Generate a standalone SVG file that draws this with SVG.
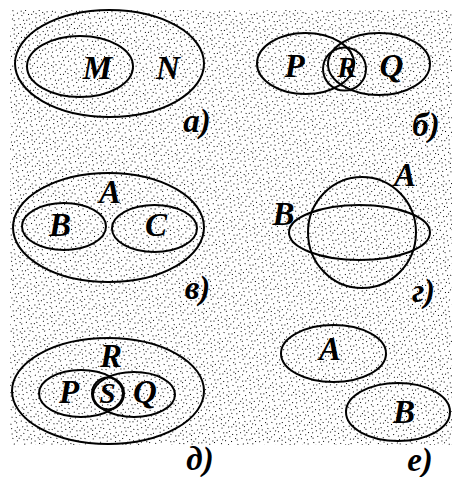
<svg xmlns="http://www.w3.org/2000/svg" width="452" height="477" viewBox="0 0 452 477">
<style>
.e{fill:none;stroke:#000;stroke-width:2}
.t{font-family:"Liberation Serif","Times New Roman",serif;font-style:italic;font-weight:bold;font-size:33px;fill:#000;text-anchor:middle}
.s{font-size:29px}
</style>
<defs>
<pattern id="dots" width="24" height="24" patternUnits="userSpaceOnUse" patternTransform="rotate(17)">
<path fill="#000" d="M3 2h1v1h-1zM11 1h1v1h-1zM18 3h1v1h-1zM22 0h1v1h-1zM7 5h1v1h-1zM15 6h1v1h-1zM1 8h1v1h-1zM20 7h1v1h-1zM9 9h1v1h-1zM13 11h1v1h-1zM4 12h1v1h-1zM17 10h1v1h-1zM23 12h1v1h-1zM6 15h1v1h-1zM11 14h1v1h-1zM19 15h1v1h-1zM2 17h1v1h-1zM14 18h1v1h-1zM21 19h1v1h-1zM8 19h1v1h-1zM0 21h1v1h-1zM16 22h1v1h-1zM5 23h1v1h-1zM12 22h1v1h-1zM10 4h1v1h-1zM2 5h1v1h-1zM20 23h1v1h-1zM17 14h1v1h-1zM7 11h1v1h-1zM23 4h1v1h-1zM14 2h1v1h-1zM5 19h1v1h-1z"/>
</pattern>
</defs>
<rect width="452" height="477" fill="#fff"/>
<rect x="10" y="10" width="442" height="435" fill="url(#dots)"/>

<g id="panel-a">
<ellipse class="e" cx="109.5" cy="63.5" rx="94.5" ry="53.5"/>
<ellipse class="e" cx="80" cy="66.5" rx="53" ry="30.5"/>
<text class="t" x="97.5" y="79">M</text>
<text class="t" x="168" y="79">N</text>
<text class="t" x="197" y="132">а)</text>
</g>

<g id="panel-b">
<ellipse class="e" cx="305.5" cy="63.5" rx="48.5" ry="30.5"/>
<ellipse class="e" cx="379" cy="64" rx="51" ry="31"/>
<circle class="e" cx="344.5" cy="69" r="21.5"/>
<text class="t s" x="347" y="77">R</text>
<text class="t" x="294.5" y="77">P</text>
<text class="t" x="391.5" y="77">Q</text>
<text class="t" x="426" y="136">б)</text>
</g>

<g id="panel-v">
<ellipse class="e" cx="108.5" cy="227.5" rx="95.5" ry="54.5"/>
<ellipse class="e" cx="64" cy="226.5" rx="42" ry="23.5"/>
<ellipse class="e" cx="154.5" cy="228.5" rx="42.5" ry="23.5"/>
<text class="t" x="110" y="203">A</text>
<text class="t" x="60" y="236">B</text>
<text class="t" x="156" y="236">C</text>
<text class="t" x="197.5" y="299">в)</text>
</g>

<g id="panel-g">
<ellipse class="e" cx="362" cy="232.5" rx="54" ry="55.5"/>
<ellipse class="e" cx="359.5" cy="232.5" rx="70.5" ry="27.5"/>
<text class="t" x="405" y="186">A</text>
<text class="t" x="283.5" y="225">B</text>
<text class="t" x="423.5" y="302">г)</text>
</g>

<g id="panel-d">
<ellipse class="e" cx="108" cy="391" rx="96" ry="53"/>
<ellipse class="e" cx="81" cy="393.5" rx="42" ry="23.5"/>
<ellipse class="e" cx="134" cy="394.5" rx="41" ry="22.5"/>
<circle class="e" cx="108" cy="393.5" r="16"/>
<text class="t" x="111" y="367">R</text>
<text class="t" x="69" y="403">P</text>
<text class="t s" x="107.5" y="403">S</text>
<text class="t" x="145" y="403">Q</text>
<text class="t" x="200" y="470">д)</text>
</g>

<g id="panel-e">
<ellipse class="e" cx="333.5" cy="353.5" rx="52.5" ry="28.5"/>
<ellipse class="e" cx="398" cy="412" rx="52" ry="29"/>
<text class="t" x="330" y="360">A</text>
<text class="t" x="404" y="423">B</text>
<text class="t" x="420" y="471">е)</text>
</g>
</svg>
